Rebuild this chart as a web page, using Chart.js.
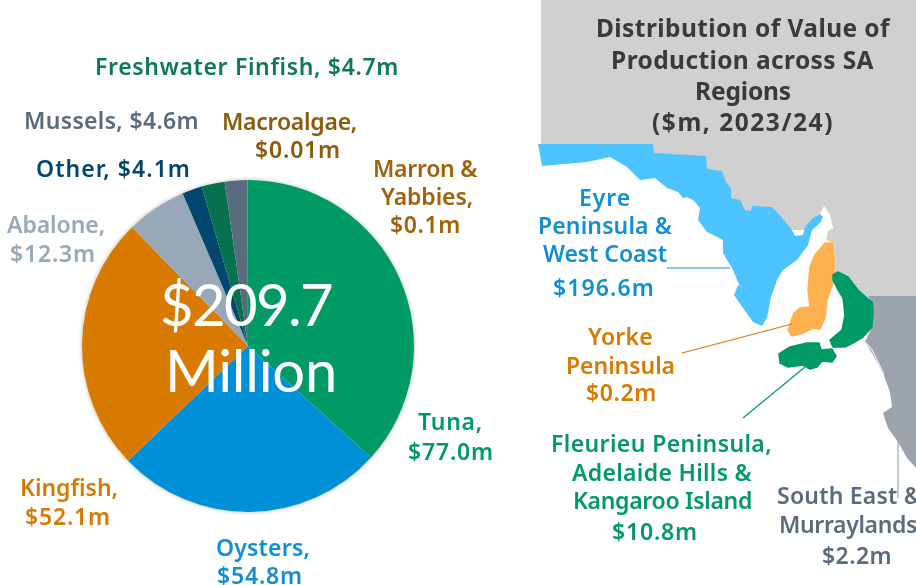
<!DOCTYPE html>
<html>
<head>
<meta charset="utf-8">
<title>SA aquaculture value of production</title>
<style>
  html, body { margin: 0; padding: 0; background: #fff; overflow: hidden; }
  canvas { display: block; }
</style>
<script src="https://cdn.jsdelivr.net/npm/chart.js@4"></script>
</head>
<body>
<canvas id="pie" width="916" height="585"></canvas>
<script>
const species = ['Tuna', 'Oysters', 'Kingfish', 'Abalone', 'Other', 'Freshwater Finfish', 'Mussels', 'Macroalgae', 'Marron & Yabbies'];
const species_values = [77.0, 54.8, 52.1, 12.3, 4.1, 4.7, 4.6, 0.01, 0.1];
const species_colors = ['#009a66', '#0090d8', '#d87a00', '#98a8b8', '#00466e', '#06714f', '#5a6b7e', '#8b5a0b', '#a0620b'];

const regions = ['Eyre Peninsula & West Coast', 'Yorke Peninsula', 'Fleurieu Peninsula, Adelaide Hills & Kangaroo Island', 'South East & Murraylands'];
const region_values = [196.6, 0.2, 10.8, 2.2];

// text blocks: colour, then [line, centre x, centre y, width]
const pie_text = [
  ['#0b7a55', ['Freshwater Finfish, $4.7m', 247, 68, 304]],
  ['#5b6b7e', ['Mussels, $4.6m', 111.5, 122, 175]],
  ['#8b5a0b', ['Macroalgae,', 289.5, 123, 135], ['$0.01m', 298, 151, 86]],
  ['#00466e', ['Other, $4.1m', 113.5, 170, 155]],
  ['#a0620b', ['Marron &', 425, 170, 104], ['Yabbies,', 427, 198, 92], ['$0.1m', 425.5, 226, 71]],
  ['#9aa8b8', ['Abalone,', 56, 226, 98], ['$12.3m', 53, 255, 86]],
  ['#00996a', ['Tuna,', 450.5, 423, 65], ['$77.0m', 451, 453, 86]],
  ['#d87a00', ['Kingfish,', 69, 489, 98], ['$52.1m', 68, 518, 86]],
  ['#0f8fd6', ['Oysters,', 263, 549, 94], ['$54.8m', 260, 577, 86]],
];
const map_text = [
  ['#0f8fd6', ['Eyre', 605, 199, 52], ['Peninsula &', 605, 227, 134], ['West Coast', 605, 255, 124], ['$196.6m', 604, 289, 102]],
  ['#d87a00', ['Yorke', 620.5, 338, 65], ['Peninsula', 620.5, 367, 109], ['$0.2m', 621.5, 394, 71]],
  ['#00996a', ['Fleurieu Peninsula,', 661.5, 445, 221], ['Adelaide Hills &', 662, 474, 180], ['Kangaroo Island', 662.5, 502, 179], ['$10.8m', 655, 533, 86]],
  ['#5b6b7e', ['South East &', 849, 497, 144], ['Murraylands', 848, 526, 138], ['$2.2m', 857, 557, 70]],
];
const title_text = [['Distribution of Value of', 743, 30, 294], ['Production across SA', 742.5, 62, 263], ['Regions', 743, 93, 96], ['($m, 2023/24)', 743, 124, 182]];
const centre_text = [['$209.7', 246, 307, 172], ['Million', 251, 373, 172]];

// map outlines, this is only the backdrop, not data
const land = [[541,0],[916,0],[916,297],[868,297],[836,272],[834,243],[826,240],[828,231],[833,228],[830,215],[824,206],[820,214],[805,230],[760,230],[700,190],[650,165],[600,152],[541,150]];
const south_east = [[868,296],[916,296],[916,468],[907,458],[898,442],[888,428],[883,413],[892,407],[890,392],[883,373],[873,355],[865,342],[873,325],[873,305]];
const coorong = [[864,341],[872,350],[878,362],[884,375]];
const eyre = [[538,144],[653,144],[654,153],[706,156],[707,169],[722,171],[726,182],[731,188],[731,198],[740,200],[745,210],[751,211],[752,206],[772,207],[778,213],[792,230],[795,236],[803,235],[805,227],[813,218],[820,214],[823,217],[820,223],[812,230],[808,245],[797,260],[783,270],[777,280],[771,297],[770,302],[767,318],[762,326],[753,322],[743,308],[734,295],[738,285],[740,287],[733,270],[723,253],[723,240],[707,232],[698,220],[700,208],[693,200],[687,197],[683,198],[678,192],[667,188],[655,178],[640,180],[627,167],[610,157],[587,162],[542,166]];
const yorke = [[825,243],[833,243],[835,272],[833,283],[827,300],[825,318],[820,329],[813,328],[803,333],[792,336],[788,330],[794,313],[800,308],[810,307],[808,290],[810,267],[815,255]];
const fleurieu = [[833,275],[838,272],[848,277],[858,290],[872,302],[873,310],[872,327],[863,337],[853,343],[845,347],[833,347],[830,340],[842,330],[845,315],[843,298],[837,288],[833,280]];
const kangaroo = [[779,354],[790,347],[807,343],[819,343],[821,350],[832,349],[836,356],[832,362],[822,361],[817,367],[810,369],[803,365],[788,367],[780,363]];
const leaders = [
  ['#0f8fd6', 667, 268, 730, 268],
  ['#d87a00', 682, 353, 792, 324],
  ['#00996a', 743, 418, 805, 367],
  ['#9ca3ad', 898, 438, 898, 498],
];

function fillShape(ctx, pts, color, soft) {
  ctx.fillStyle = color;
  ctx.strokeStyle = color;
  ctx.lineJoin = 'round';
  ctx.lineWidth = soft ? 1.5 : 0;
  ctx.beginPath();
  pts.forEach((p, i) => i ? ctx.lineTo(p[0], p[1]) : ctx.moveTo(p[0], p[1]));
  ctx.closePath();
  ctx.fill();
  if (soft) ctx.stroke();
}

// squeeze or stretch a line to the width it has in the picture
function drawLine(ctx, line, font) {
  ctx.font = font;
  ctx.textAlign = 'center';
  ctx.textBaseline = 'middle';
  ctx.letterSpacing = '0px';
  const w = ctx.measureText(line[0]).width;
  ctx.letterSpacing = ((line[3] - w) / line[0].length).toFixed(2) + 'px';
  ctx.fillText(line[0], line[1], line[2]);
}

const mapBackdrop = {
  id: 'mapBackdrop',
  beforeDraw(chart) {
    const ctx = chart.ctx;
    ctx.save();
    fillShape(ctx, land, '#d0d0d0');
    fillShape(ctx, south_east, '#9ca3ad');
    ctx.strokeStyle = '#e4e6e9';
    ctx.lineWidth = 1.5;
    ctx.beginPath();
    coorong.forEach((p, i) => i ? ctx.lineTo(p[0], p[1]) : ctx.moveTo(p[0], p[1]));
    ctx.stroke();
    fillShape(ctx, eyre, '#4dc3ff');
    fillShape(ctx, yorke, '#ffb14f', true);
    fillShape(ctx, fleurieu, '#009a66', true);
    fillShape(ctx, kangaroo, '#009a66', true);
    leaders.forEach(l => {
      ctx.strokeStyle = l[0];
      ctx.lineWidth = 1.2;
      ctx.beginPath();
      ctx.moveTo(l[1], l[2]);
      ctx.lineTo(l[3], l[4]);
      ctx.stroke();
    });
    ctx.restore();
  },
  beforeDatasetsDraw(chart) {
    // soft shadow round the whole pie, under the slices
    const arc = chart.getDatasetMeta(0).data[0];
    const ctx = chart.ctx;
    ctx.save();
    ctx.shadowColor = 'rgba(0,0,0,0.3)';
    ctx.shadowBlur = 4;
    ctx.fillStyle = '#ffffff';
    ctx.beginPath();
    ctx.arc(arc.x, arc.y, arc.outerRadius, 0, Math.PI * 2);
    ctx.fill();
    ctx.restore();
  },
};

const textLayer = {
  id: 'textLayer',
  afterDraw(chart) {
    const ctx = chart.ctx;
    ctx.save();
    pie_text.concat(map_text).forEach(block => {
      ctx.fillStyle = block[0];
      block.slice(1).forEach(l => drawLine(ctx, l, '600 23px "Noto Sans"'));
    });
    ctx.fillStyle = '#3a3a3a';
    title_text.forEach(l => drawLine(ctx, l, '700 24.5px "Noto Sans"'));
    ctx.fillStyle = '#ffffff';
    centre_text.forEach(l => drawLine(ctx, l, '400 58px Lato'));
    ctx.restore();
  },
};

const data_pie = {
  labels: species,
  datasets: [{
    data: species_values,
    backgroundColor: species_colors,
    borderWidth: 0,
  }],
};

const config_pie = {
  type: 'pie',
  data: data_pie,
  options: {
    responsive: false,
    animation: false,
    layout: { padding: { left: 82, right: 502, top: 180, bottom: 73 } },
    plugins: {
      legend: { display: false },
      tooltip: { enabled: false },
    },
  },
  plugins: [mapBackdrop, textLayer],
};

const myPie = new Chart(document.getElementById('pie'), config_pie);
</script>
</body>
</html>
